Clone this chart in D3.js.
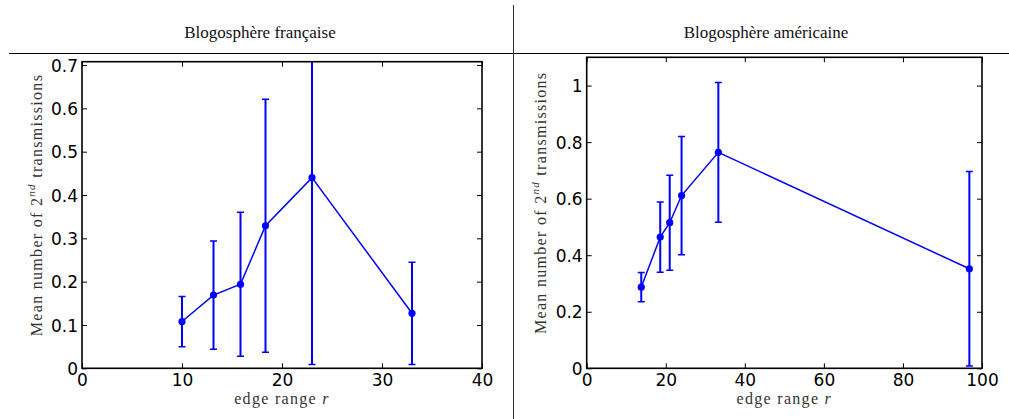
<!DOCTYPE html>
<html>
<head>
<meta charset="utf-8">
<script src="https://cdn.jsdelivr.net/npm/d3@7"></script>
<style>
  body { margin: 0; background: #fff; }
  .tick text { font-family: "DejaVu Sans", sans-serif; font-size: 17px; fill: #000; }
  .tick line { stroke: #000; stroke-width: 1; }
  .title { font-family: "Liberation Serif", serif; font-size: 17px; fill: #111; }
  .alabel { font-family: "Liberation Serif", serif; font-size: 16px; fill: #333; letter-spacing: 1.3px; }
</style>
</head>
<body>
<div id="chart"></div>
<script>
var w = 1009;
var h = 419;

// Blogosphère française
var frX = [10, 13.15, 15.85, 18.35, 23.0, 33.0];
var frY = [0.108, 0.169, 0.194, 0.329, 0.44, 0.127];
var frErr = [0.058, 0.125, 0.166, 0.292, 0.431, 0.118];
var frXTicks = [0, 10, 20, 30, 40];
var frYTicks = [0, 0.1, 0.2, 0.3, 0.4, 0.5, 0.6, 0.7];
var frYLabels = ["0", "0.1", "0.2", "0.3", "0.4", "0.5", "0.6", "0.7"];

// Blogosphère américaine
var usX = [13.8, 18.6, 21.0, 24.0, 33.3, 96.8];
var usY = [0.287, 0.464, 0.515, 0.611, 0.764, 0.352];
var usErr = [0.052, 0.124, 0.168, 0.209, 0.247, 0.344];
var usXTicks = [0, 20, 40, 60, 80, 100];
var usYTicks = [0, 0.2, 0.4, 0.6, 0.8, 1];
var usYLabels = ["0", "0.2", "0.4", "0.6", "0.8", "1"];

var blue = "#0000ff";

var svg = d3.select("#chart")
            .append("svg")
            .attr("width", w)
            .attr("height", h);

// header lines
svg.append("line")
    .attr("x1", 9).attr("x2", w)
    .attr("y1", 53.5).attr("y2", 53.5)
    .attr("stroke", "#000").attr("stroke-width", 1.2);
svg.append("line")
    .attr("x1", 513.5).attr("x2", 513.5)
    .attr("y1", 5).attr("y2", h)
    .attr("stroke", "#333").attr("stroke-width", 1);

svg.append("text").attr("class", "title")
    .attr("x", 260).attr("y", 38).attr("text-anchor", "middle")
    .text("Blogosphère française");
svg.append("text").attr("class", "title")
    .attr("x", 766).attr("y", 38).attr("text-anchor", "middle")
    .text("Blogosphère américaine");

function drawPanel(id, box, xDom, yDom, xs, ys, errs, xTicks, yTicks, yLabels, labelX) {
    var x = d3.scaleLinear().domain(xDom).range([box.left, box.right]);
    var y = d3.scaleLinear().domain(yDom).range([box.bottom, box.top]);
    var g = svg.append("g");

    g.append("clipPath").attr("id", id)
        .append("rect")
        .attr("x", box.left).attr("y", box.top)
        .attr("width", box.right - box.left).attr("height", box.bottom - box.top);

    // axes, ticks pointing inward
    var xAxis = d3.axisBottom(x).tickValues(xTicks).tickSizeInner(-5).tickSizeOuter(0).tickPadding(6);
    var xTop = d3.axisTop(x).tickValues(xTicks).tickSizeInner(-5).tickSizeOuter(0).tickFormat("");
    var yAxis = d3.axisLeft(y).tickValues(yTicks).tickSizeInner(-5).tickSizeOuter(0).tickPadding(4)
        .tickFormat(function(d, i) { return yLabels[i]; });
    var yRight = d3.axisRight(y).tickValues(yTicks).tickSizeInner(-5).tickSizeOuter(0).tickFormat("");

    g.append("g").attr("transform", "translate(0," + box.bottom + ")").call(xAxis);
    g.append("g").attr("transform", "translate(0," + box.top + ")").call(xTop);
    g.append("g").attr("transform", "translate(" + box.left + ",0)").call(yAxis)
        .selectAll(".tick text").attr("dy", "0.36em");
    g.append("g").attr("transform", "translate(" + box.right + ",0)").call(yRight);
    g.selectAll(".domain").remove();

    g.append("rect")
        .attr("x", box.left).attr("y", box.top)
        .attr("width", box.right - box.left).attr("height", box.bottom - box.top)
        .attr("fill", "none").attr("stroke", "#000").attr("stroke-width", 1.6);

    var plot = g.append("g").attr("clip-path", "url(#" + id + ")");
    var pts = xs.map(function(d, i) { return { x: d, y: ys[i], e: errs[i] }; });

    // error bars
    var eb = plot.selectAll(".err").data(pts).enter().append("g");
    eb.append("line")
        .attr("x1", function(d) { return x(d.x); }).attr("x2", function(d) { return x(d.x); })
        .attr("y1", function(d) { return y(d.y - d.e); }).attr("y2", function(d) { return y(d.y + d.e); })
        .attr("stroke", blue).attr("stroke-width", 2);
    [-1, 1].forEach(function(s) {
        eb.append("line")
            .attr("x1", function(d) { return x(d.x) - 3.5; }).attr("x2", function(d) { return x(d.x) + 3.5; })
            .attr("y1", function(d) { return y(d.y + s * d.e); }).attr("y2", function(d) { return y(d.y + s * d.e); })
            .attr("stroke", blue).attr("stroke-width", 1.5);
    });

    plot.append("path").datum(pts)
        .attr("d", d3.line().x(function(d) { return x(d.x); }).y(function(d) { return y(d.y); }))
        .attr("fill", "none").attr("stroke", blue).attr("stroke-width", 1.5);

    g.selectAll(".dot").data(pts).enter().append("circle")
        .attr("cx", function(d) { return x(d.x); })
        .attr("cy", function(d) { return y(d.y); })
        .attr("r", 3.6).attr("fill", blue);

    // axis labels
    var xl = g.append("text").attr("class", "alabel")
        .attr("x", (box.left + box.right) / 2).attr("y", 404)
        .attr("text-anchor", "middle");
    xl.append("tspan").text("edge range ");
    xl.append("tspan").attr("font-style", "italic").text("r");

    var yl = g.append("text").attr("class", "alabel")
        .attr("transform", "translate(" + labelX + "," + ((box.top + box.bottom) / 2 - 10) + ") rotate(-90)")
        .attr("text-anchor", "middle");
    yl.append("tspan").text("Mean number of 2");
    yl.append("tspan").attr("font-style", "italic").attr("font-size", "11px").attr("dy", "-7").text("nd");
    yl.append("tspan").attr("dy", "7").text(" transmissions");
}

drawPanel("clipFr", { left: 82, right: 482, top: 61.7, bottom: 368.3 }, [0, 40], [0, 0.7077],
    frX, frY, frErr, frXTicks, frYTicks, frYLabels, 42);
drawPanel("clipUs", { left: 586.7, right: 982, top: 57.3, bottom: 368.3 }, [0, 100], [0, 1.1],
    usX, usY, usErr, usXTicks, usYTicks, usYLabels, 546);
</script>
</body>
</html>
